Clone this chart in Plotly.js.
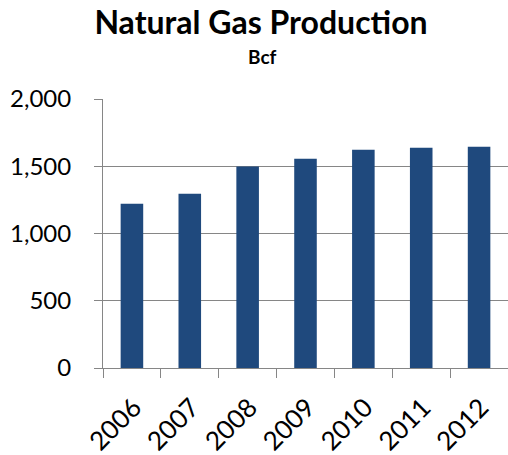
<!DOCTYPE html>
<html>
<head>
<meta charset="utf-8">
<script src="https://cdn.plot.ly/plotly-3.0.1.min.js"></script>
<style>html,body{margin:0;padding:0;background:#fff;}#chart{width:508px;height:455px;}</style>
</head>
<body>
<div id="chart"></div>
<script>
const years = ['2006', '2007', '2008', '2009', '2010', '2011', '2012'];
const production = [1221, 1295, 1498, 1556, 1623, 1638, 1645];
const yTicks = [0, 500, 1000, 1500, 2000];
const yTickLabels = ['0', '500', '1,000', '1,500', '2,000'];
const chartTitle = 'Natural Gas Production';
const chartSubtitle = 'Bcf';

const gray = '#868686';
const font = 'Lato, "Open Sans", sans-serif';

const trace = {
  type: 'bar',
  x: years,
  y: production,
  marker: {color: '#1F497D'},
  hoverinfo: 'x+y'
};

const layout = {
  width: 508,
  height: 455,
  margin: {l: 103, r: 0, t: 99, b: 87},
  paper_bgcolor: '#fff',
  plot_bgcolor: '#fff',
  bargap: 0.61,
  showlegend: false,
  font: {family: font, color: '#000'},
  title: {
    text: chartTitle,
    font: {family: font, size: 32, weight: 'bold', color: '#000'},
    x: 261 / 508,
    xanchor: 'center',
    xref: 'container',
    y: 1 - 23 / 455,
    yanchor: 'middle',
    yref: 'container'
  },
  annotations: [{
    text: '<b>' + chartSubtitle + '</b>',
    xref: 'paper', yref: 'paper',
    x: (262 - 103) / 405, y: (368 - 57) / 269,
    xanchor: 'center', yanchor: 'middle',
    showarrow: false,
    font: {family: font, size: 19, color: '#000'}
  }],
  xaxis: {
    type: 'category',
    showgrid: false,
    showline: true,
    linecolor: gray,
    linewidth: 1,
    ticks: 'outside',
    tickson: 'boundaries',
    ticklen: 9,
    tickcolor: gray,
    tickangle: -45,
    ticklabelstandoff: 13,
    ticklabelshift: 2,
    tickfont: {family: font, size: 26, color: '#000'},
    zeroline: false
  },
  yaxis: {
    range: [0, 2000],
    tickvals: yTicks,
    ticktext: yTickLabels,
    showgrid: true,
    gridcolor: gray,
    gridwidth: 1,
    showline: true,
    linecolor: gray,
    linewidth: 1,
    ticks: 'outside',
    ticklen: 8,
    tickcolor: gray,
    ticklabelstandoff: 18,
    tickfont: {family: font, size: 24, color: '#000'},
    zeroline: false
  }
};

Plotly.newPlot('chart', [trace], layout, {displayModeBar: false, staticPlot: true});
</script>
</body>
</html>
